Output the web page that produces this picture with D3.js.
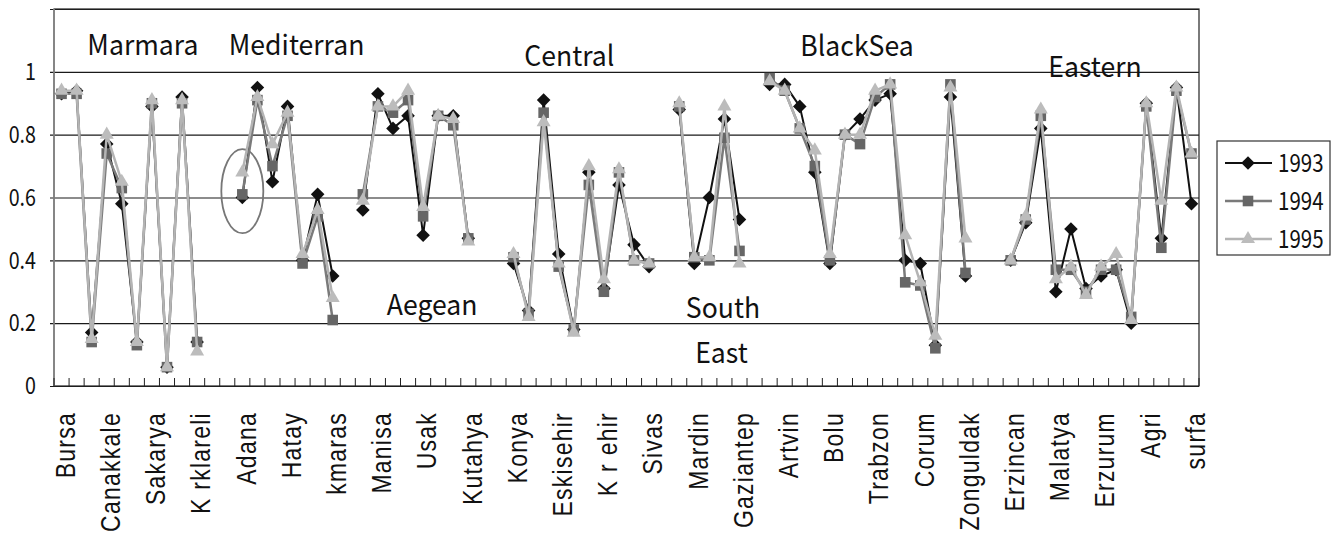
<!DOCTYPE html>
<html>
<head>
<meta charset="utf-8">
<script src="https://cdn.jsdelivr.net/npm/d3@7"></script>
<style>
  body { margin: 0; background: #fff; }
</style>
</head>
<body>
<div id="chart-container"></div>
<script>
/* CONSTANTS AND GLOBALS */
const width = 1338,
  height = 538,
  margin = {top: 9, right: 139, bottom: 152, left: 54};

// 76 provinces on the x axis, only every third one carries a label
const provinceCount = 76;
const labelStep = 3;
const labelledProvinces = ["Bursa", "Canakkale", "Sakarya", "K rklareli", "Adana", "Hatay",
  "kmaras", "Manisa", "Usak", "Kutahya", "Konya", "Eskisehir", "K r ehir", "Sivas", "Mardin",
  "Gaziantep", "Artvin", "Bolu", "Trabzon", "Corum", "Zonguldak", "Erzincan", "Malatya",
  "Erzurum", "Agri", "surfa"];

const years = ["1993", "1994", "1995"];

// null = no data (gap between regions)
const v1993 = [0.93, 0.94, 0.17, 0.77, 0.58, 0.14, 0.89, 0.06, 0.92, 0.14, null, null,
  0.60, 0.95, 0.65, 0.89, 0.40, 0.61, 0.35, null,
  0.56, 0.93, 0.82, 0.86, 0.48, 0.86, 0.86, 0.47, null, null,
  0.39, 0.24, 0.91, 0.42, 0.18, 0.68, 0.31, 0.64, 0.45, 0.38, null,
  0.88, 0.39, 0.60, 0.85, 0.53, null,
  0.96, 0.96, 0.89, 0.68, 0.39, 0.80, 0.85, 0.91, 0.93, 0.40, 0.39, 0.13, 0.92, 0.35, null, null,
  0.40, 0.52, 0.82, 0.30, 0.50, 0.31, 0.35, 0.37, 0.20, 0.90, 0.47, 0.95, 0.58];
const v1994 = [0.93, 0.93, 0.14, 0.74, 0.63, 0.13, 0.90, 0.06, 0.90, 0.14, null, null,
  0.61, 0.91, 0.70, 0.86, 0.39, 0.54, 0.21, null,
  0.61, 0.89, 0.87, 0.91, 0.54, 0.86, 0.83, 0.47, null, null,
  0.41, 0.23, 0.87, 0.38, 0.18, 0.64, 0.30, 0.68, 0.40, 0.39, null,
  0.89, 0.41, 0.40, 0.79, 0.43, null,
  0.98, 0.94, 0.82, 0.70, 0.40, 0.80, 0.77, 0.92, 0.96, 0.33, 0.32, 0.12, 0.96, 0.36, null, null,
  0.40, 0.53, 0.86, 0.37, 0.37, 0.30, 0.37, 0.37, 0.22, 0.89, 0.44, 0.94, 0.74];
const v1995 = [0.94, 0.94, 0.15, 0.80, 0.65, 0.14, 0.91, 0.06, 0.91, 0.11, null, null,
  0.68, 0.92, 0.77, 0.87, 0.42, 0.56, 0.28, null,
  0.59, 0.89, 0.89, 0.94, 0.57, 0.86, 0.85, 0.46, null, null,
  0.42, 0.22, 0.84, 0.39, 0.17, 0.70, 0.34, 0.69, 0.40, 0.39, null,
  0.90, 0.41, 0.41, 0.89, 0.39, null,
  0.97, 0.94, 0.82, 0.75, 0.42, 0.80, 0.80, 0.94, 0.96, 0.48, 0.33, 0.16, 0.95, 0.47, null, null,
  0.40, 0.54, 0.88, 0.34, 0.38, 0.29, 0.38, 0.42, 0.21, 0.90, 0.59, 0.95, 0.74];

const yTicks = [0, 0.2, 0.4, 0.6, 0.8, 1, 1.2];

// region names and where they sit, in data units (province index, value)
const regionNames = ["Marmara", "Mediterran", "Aegean", "Central", "South", "East", "BlackSea", "Eastern"];
const regionIndex = [5.4, 15.6, 24.6, 33.7, 43.9, 43.8, 52.8, 68.6];
const regionValue = [1.054, 1.054, 0.227, 1.019, 0.216, 0.073, 1.051, 0.984];

const seriesValues = [v1993, v1994, v1995];
const lineColors = ["#111", "#7a7a7a", "#b4b4b4"];
const markerColors = ["#111", "#666", "#bcbcbc"];
const lineWidths = [2, 2.5, 2.5];

const numFont = "'Noto Sans CJK JP', sans-serif";

let svg, x, y;

function init() {
  const plotW = width - margin.left - margin.right,
    plotH = height - margin.top - margin.bottom;

  x = d3.scaleBand()
    .domain(d3.range(provinceCount))
    .range([margin.left, width - margin.right]);

  y = d3.scaleLinear()
    .domain([0, 1.2])
    .range([height - margin.bottom, margin.top]);

  const xPos = i => x.range()[0] + (i + 0.5) * x.step();

  svg = d3.select("#chart-container")
    .append("svg")
    .attr("width", width)
    .attr("height", height);

  // gridlines + y labels
  const yAxis = d3.axisLeft(y)
    .tickValues(yTicks)
    .tickSize(-plotW)
    .tickPadding(22)
    .tickFormat(d => d === 1.2 ? "" : String(d));

  const gy = svg.append("g")
    .attr("transform", `translate(${margin.left},0)`)
    .call(yAxis);
  gy.select(".domain").remove();
  gy.selectAll(".tick line")
    .attr("x1", -4)
    .attr("stroke", "#1a1a1a")
    .attr("stroke-width", 1.2);
  gy.selectAll(".tick text")
    .attr("fill", "#111")
    .style("font-family", numFont)
    .style("font-size", "24px")
    .attr("transform", "scale(0.82,1)");

  // plot frame
  svg.append("rect")
    .attr("x", margin.left)
    .attr("y", margin.top)
    .attr("width", plotW)
    .attr("height", plotH)
    .attr("fill", "none")
    .attr("stroke", "#222")
    .attr("stroke-width", 1.2);
  // left axis is grey in the original
  svg.append("line")
    .attr("x1", margin.left).attr("x2", margin.left)
    .attr("y1", margin.top).attr("y2", y(0))
    .attr("stroke", "#8a8a8a")
    .attr("stroke-width", 1.6);

  // small ticks between categories, pointing up
  svg.append("g")
    .selectAll("line")
    .data(d3.range(provinceCount + 1))
    .join("line")
    .attr("x1", i => x.range()[0] + i * x.step())
    .attr("x2", i => x.range()[0] + i * x.step())
    .attr("y1", y(0))
    .attr("y2", y(0) - 8)
    .attr("stroke", "#222");

  // x labels
  const xAxis = d3.axisBottom(x)
    .tickSize(0)
    .tickFormat(i => i % labelStep === 0 ? labelledProvinces[i / labelStep] : "");
  const gx = svg.append("g")
    .attr("transform", `translate(0,${y(0)})`)
    .call(xAxis);
  gx.select(".domain").remove();
  gx.selectAll(".tick text")
    .attr("transform", "translate(3.5,26) rotate(-90) scale(0.85,1)")
    .attr("x", 0)
    .attr("y", 0)
    .attr("dy", "0.36em")
    .attr("text-anchor", "end")
    .attr("fill", "#111")
    .style("font-family", "'Liberation Sans', Arial, sans-serif")
    .style("font-size", "27px")
    .style("letter-spacing", "1.5px");

  // region names
  svg.append("g")
    .selectAll("text")
    .data(regionNames)
    .join("text")
    .attr("transform", (d, i) => `translate(${xPos(regionIndex[i])},${y(regionValue[i])}) scale(0.95,1)`)
    .attr("text-anchor", "middle")
    .attr("fill", "#111")
    .style("font-family", numFont)
    .style("font-size", "28px")
    .text(d => d);

  // circle around Adana
  svg.append("ellipse")
    .attr("cx", xPos(12))
    .attr("cy", y(0.62))
    .attr("rx", 21)
    .attr("ry", 42)
    .attr("fill", "none")
    .attr("stroke", "#777")
    .attr("stroke-width", 1.8);

  draw();
}

function markerPath(k) {
  if (k === 0) return d3.symbol(d3.symbolSquare, 92)();
  if (k === 1) return d3.symbol(d3.symbolSquare, 112)();
  return d3.symbol(d3.symbolTriangle, 85)();
}

function draw() {
  const line = d3.line()
    .defined(d => d.v != null)
    .x(d => x(d.i) + x.bandwidth() / 2)
    .y(d => y(d.v));

  seriesValues.forEach((vals, k) => {
    const pts = vals.map((v, i) => ({i, v}));
    const g = svg.append("g").attr("class", "series-" + years[k]);

    g.append("path")
      .datum(pts)
      .attr("d", line)
      .attr("fill", "none")
      .attr("stroke", lineColors[k])
      .attr("stroke-width", lineWidths[k])
      .attr("stroke-linejoin", "round");

    g.selectAll("path.marker")
      .data(pts.filter(d => d.v != null))
      .join("path")
      .attr("class", "marker")
      .attr("d", markerPath(k))
      .attr("transform", d => `translate(${x(d.i) + x.bandwidth() / 2},${y(d.v)})` + (k === 0 ? " rotate(45)" : ""))
      .attr("fill", markerColors[k]);
  });

  // legend
  const lg = svg.append("g").attr("transform", "translate(1217,141)");
  lg.append("rect")
    .attr("width", 113)
    .attr("height", 114)
    .attr("fill", "#fff")
    .attr("stroke", "#333")
    .attr("stroke-width", 1.2);

  const item = lg.selectAll("g.item")
    .data(years)
    .join("g")
    .attr("class", "item")
    .attr("transform", (d, k) => `translate(0,${22 + k * 38})`);

  item.append("line")
    .attr("x1", 8).attr("x2", 55)
    .attr("stroke", (d, k) => lineColors[k])
    .attr("stroke-width", (d, k) => lineWidths[k]);
  item.append("path")
    .attr("d", (d, k) => markerPath(k))
    .attr("transform", (d, k) => "translate(31,0)" + (k === 0 ? " rotate(45)" : ""))
    .attr("fill", (d, k) => markerColors[k]);
  item.append("text")
    .attr("transform", "translate(61,0) scale(0.82,1)")
    .attr("dy", "0.36em")
    .attr("fill", "#111")
    .style("font-family", numFont)
    .style("font-size", "25px")
    .text(d => d);
}

init();
</script>
</body>
</html>
